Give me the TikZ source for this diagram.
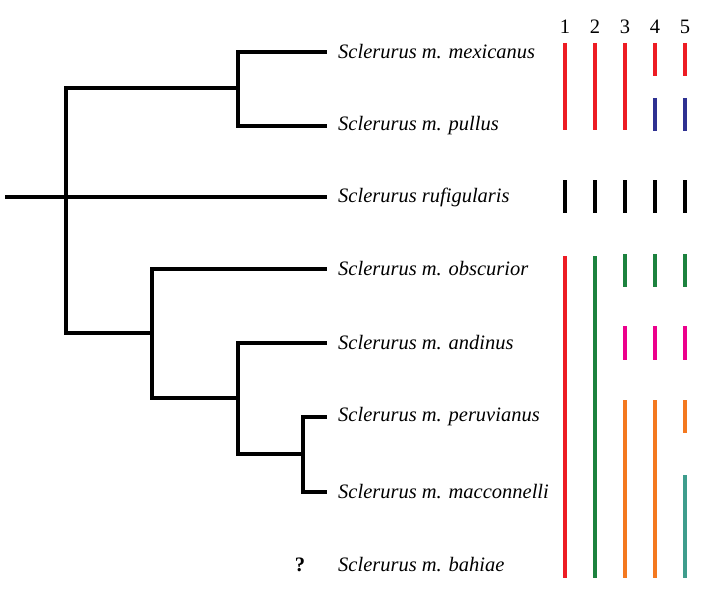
\documentclass[tikz,border=0pt]{standalone}
\usepackage{fontspec}
\setmainfont{Liberation Serif}
\definecolor{cred}{RGB}{237,28,36}
\definecolor{cblue}{RGB}{46,49,146}
\definecolor{cgreen}{RGB}{28,130,62}
\definecolor{cmag}{RGB}{236,0,140}
\definecolor{corange}{RGB}{244,121,32}
\definecolor{cteal}{RGB}{62,157,141}
\begin{document}
\begin{tikzpicture}[x=1pt,y=-1pt,
  branch/.style={line width=4pt,line cap=rect,line join=miter},
  taxon/.style={anchor=west,inner sep=0pt,font=\fontsize{20.5}{23}\selectfont\itshape},
  colnum/.style={inner sep=0pt,font=\fontsize{20.5}{23}\selectfont},
  bar/.style={line width=3.8pt}]
\useasboundingbox (0,0) rectangle (709,599);
% taxa labels
\node[taxon] (t1) at (338,52) {Sclerurus m. mexicanus};
\node[taxon] (t2) at (338,126) {Sclerurus m. pullus};
\node[taxon] (t3) at (338,197) {Sclerurus rufigularis};
\node[taxon] (t4) at (338,269) {Sclerurus m. obscurior};
\node[taxon] (t5) at (338,343) {Sclerurus m. andinus};
\node[taxon] (t6) at (338,417) {Sclerurus m. peruvianus};
\node[taxon] (t7) at (338,492) {Sclerurus m. macconnelli};
\node[taxon] (t8) at (338,565) {Sclerurus m. bahiae};
\node[inner sep=0pt,font=\fontsize{20.5}{23}\selectfont\bfseries] (q) at (300,565) {?};
% tree coordinates
\coordinate (r0) at (7,197);
\coordinate (n1) at (66,197);
\coordinate (n2) at (238,88);
\coordinate (n3) at (152,333);
\coordinate (n4) at (238,398);
\coordinate (n5) at (303,454);
\coordinate (e1) at (325,52);
\coordinate (e2) at (325,126);
\coordinate (e3) at (325,197);
\coordinate (e4) at (325,269);
\coordinate (e5) at (325,343);
\coordinate (e6) at (325,417);
\coordinate (e7) at (325,492);
\draw[branch] (r0) -- (e3);
\draw[branch] (e1) -- (n2 |- e1) -- (n2 |- e2) -- (e2);
\draw[branch] (n2) -- (n1 |- n2) -- (n1 |- n3) -- (n3);
\draw[branch] (e4) -- (n3 |- e4) -- (n3 |- n4) -- (n4);
\draw[branch] (e5) -- (n4 |- e5) -- (n4 |- n5) -- (n5);
\draw[branch] (e6) -- (n5 |- e6) -- (n5 |- e7) -- (e7);
% column numbers
\foreach \i/\x in {1/565,2/595,3/625,4/655,5/685}{
  \node[colnum] (c\i) at (\x,27) {\i};
}
% bars
\foreach \x in {565,595,625}{
  \draw[bar,cred] (\x,43) -- (\x,130);
}
\foreach \x in {655,685}{
  \draw[bar,cred] (\x,43) -- (\x,76);
  \draw[bar,cblue] (\x,98) -- (\x,131);
}
\foreach \x in {565,595,625,655,685}{
  \draw[bar,black] (\x,180) -- (\x,213);
}
\draw[bar,cred] (565,256) -- (565,578);
\draw[bar,cgreen] (595,256) -- (595,578);
\foreach \x in {625,655,685}{
  \draw[bar,cgreen] (\x,254) -- (\x,287);
  \draw[bar,cmag] (\x,326) -- (\x,360);
}
\draw[bar,corange] (625,400) -- (625,578);
\draw[bar,corange] (655,400) -- (655,578);
\draw[bar,corange] (685,400) -- (685,433);
\draw[bar,cteal] (685,475) -- (685,578);
\end{tikzpicture}
\end{document}
